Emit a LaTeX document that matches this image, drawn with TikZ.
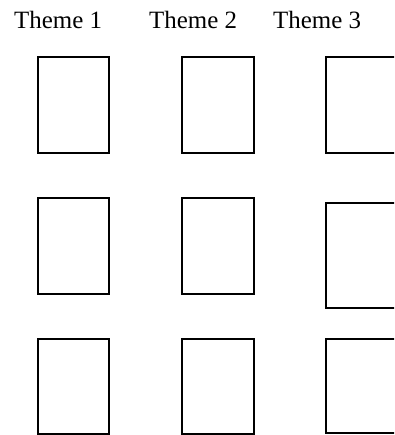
\documentclass[tikz,border=0pt]{standalone}
\usepackage{fontspec}
\setmainfont{Liberation Serif}
\begin{document}
\begin{tikzpicture}[x=1bp,y=-1bp,
  theme/.style={anchor=base west, inner sep=0pt, font=\fontsize{25}{30}\selectfont},
  card/.style={draw=black, line width=2bp, inner sep=0pt, minimum width=71.5bp, minimum height=96bp}]
\clip (0,0) rectangle (394,435);
\fill[white] (0,0) rectangle (394,435);
\node[theme] (t1) at (14,28.3) {Theme 1};
\node[theme] (t2) at (149,28.3) {Theme 2};
\node[theme] (t3) at (273,28.3) {Theme 3};
% column 1
\node[card] (a1) at (73.7,105.4) {};
\node[card] (a2) at (73.7,246.2) {};
\node[card, minimum height=94.5bp] (a3) at (73.7,386.7) {};
% column 2
\node[card] (b1) at (217.9,105.5) {};
\node[card] (b2) at (217.9,246.3) {};
\node[card, minimum height=94.5bp] (b3) at (217.9,386.6) {};
% column 3 (cut by the right edge)
\node[card, minimum height=95.5bp] (c1) at (362.2,105.2) {};
\node[card, minimum height=104.2bp] (c2) at (362.2,255.6) {};
\node[card, minimum height=93.2bp] (c3) at (362.2,386.0) {};
\end{tikzpicture}
\end{document}
